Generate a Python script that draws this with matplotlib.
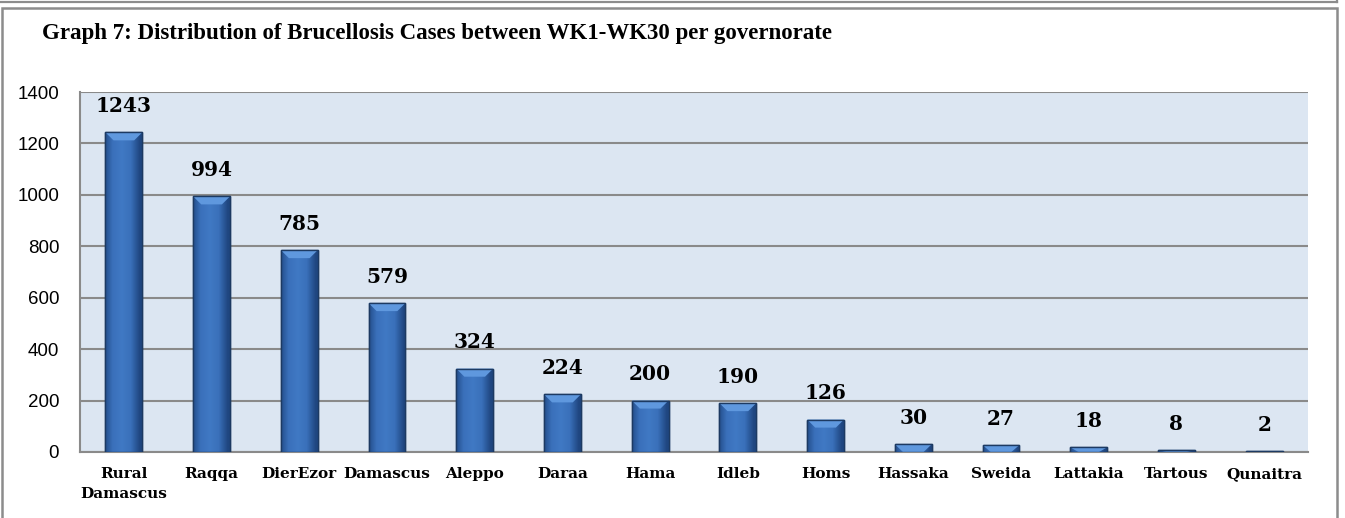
import matplotlib.pyplot as plt
import numpy as np
from matplotlib.colors import LinearSegmentedColormap
from matplotlib.patches import Rectangle, Polygon
from matplotlib.lines import Line2D


governorates = ["Rural\nDamascus", "Raqqa", "DierEzor", "Damascus", "Aleppo", "Daraa", "Hama",
                "Idleb", "Homs", "Hassaka", "Sweida", "Lattakia", "Tartous", "Qunaitra"]
cases = [1243, 994, 785, 579, 324, 224, 200, 190, 126, 30, 27, 18, 8, 2]
y_ticks = [0, 200, 400, 600, 800, 1000, 1200, 1400]

TITLE = "Graph 7: Distribution of Brucellosis Cases between WK1-WK30 per governorate"
SERIF = "DejaVu Serif"
SANS = "Liberation Sans"

BAR_CMAP = LinearSegmentedColormap.from_list("barblue", ["#1f4680", "#3a70ba", "#4079c4"])


def draw_frame(fig):
	# page border left over from the report layout
	fig.add_artist(Line2D([0, 1337 / 1345], [1 - 1.5 / 518, 1 - 1.5 / 518],
	                      transform=fig.transFigure, color="#8c8c8c", lw=1.6))
	fig.add_artist(Line2D([1337 / 1345, 1337 / 1345], [1, 1 - 1.5 / 518],
	                      transform=fig.transFigure, color="#8c8c8c", lw=1.6))
	fig.add_artist(Rectangle((1.5 / 1345, -0.05), 1335.5 / 1345, 1.05 - 7.5 / 518,
	                         transform=fig.transFigure, fill=False, edgecolor="#8c8c8c", lw=1.8))


def gradient_bars(ax, x, heights, width):
	bars = ax.bar(x, heights, width=width, color="#3a6fb5", edgecolor="#1d3f70", linewidth=1.0, zorder=3)
	grad = np.linspace(0, 1, 64)
	grad = 1 - np.abs(grad - 0.45) * 2.0
	grad = np.clip(grad, 0, 1)
	grad = np.tile(grad, (2, 1))
	# bevel depth of about 8 px, in data units
	bevel = 8 * 1400 / 360
	for b in bars:
		x0, w, h = b.get_x(), b.get_width(), b.get_height()
		im = ax.imshow(grad, extent=[x0, x0 + w, 0, h], aspect="auto", cmap=BAR_CMAP,
		               vmin=0, vmax=1, zorder=4, origin="lower")
		im.set_clip_path(b)
		d = min(bevel, h)
		inset = w * 0.22
		ax.add_patch(Polygon([[x0, h], [x0 + w, h], [x0 + w - inset, h - d], [x0 + inset, h - d]],
		                     closed=True, facecolor="#5f98de", edgecolor="none", zorder=5))
		ax.add_patch(Rectangle((x0, 0), w, h, fill=False, edgecolor="#1d3a62", lw=1.0, zorder=6))
	return bars


def main():
	fig = plt.figure(figsize=(13.45, 5.18), dpi=100)
	draw_frame(fig)

	ax = fig.add_axes([80 / 1345, 1 - 452 / 518, 1228 / 1345, 360 / 518])
	ax.set_facecolor("#dce6f2")

	x = np.arange(len(governorates))
	gradient_bars(ax, x, cases, 0.42)

	for xi, v in zip(x, cases):
		ax.annotate(str(v), (xi, v), xytext=(0, 19), textcoords="offset points",
		            ha="center", va="center", fontsize=14.5, fontweight="bold",
		            family=SERIF, zorder=7, annotation_clip=False)

	ax.set_xlim(-0.5, len(governorates) - 0.5)
	ax.set_ylim(0, 1400)
	ax.set_yticks(y_ticks)
	ax.set_yticklabels([str(t) for t in y_ticks], fontsize=13.5, family=SANS)
	ax.set_xticks(x)
	ax.set_xticklabels(governorates, fontsize=11, fontweight="bold", family=SERIF, linespacing=1.5)
	ax.tick_params(axis="both", length=0)
	ax.tick_params(axis="x", pad=11)
	ax.tick_params(axis="y", pad=15)

	ax.grid(axis="y", color="#8a8a8a", lw=1.5, zorder=1)
	ax.set_axisbelow(True)
	for side in ["top", "right"]:
		ax.spines[side].set_visible(False)
	for side in ["left", "bottom"]:
		ax.spines[side].set_color("#8a8a8a")
		ax.spines[side].set_linewidth(1.5)

	fig.text(42 / 1345, 1 - 34 / 518, TITLE, fontsize=16.5, fontweight="bold", family="Liberation Serif",
	         ha="left", va="center")

	plt.savefig("out.png", dpi=100)


if __name__ == '__main__':
	main()
